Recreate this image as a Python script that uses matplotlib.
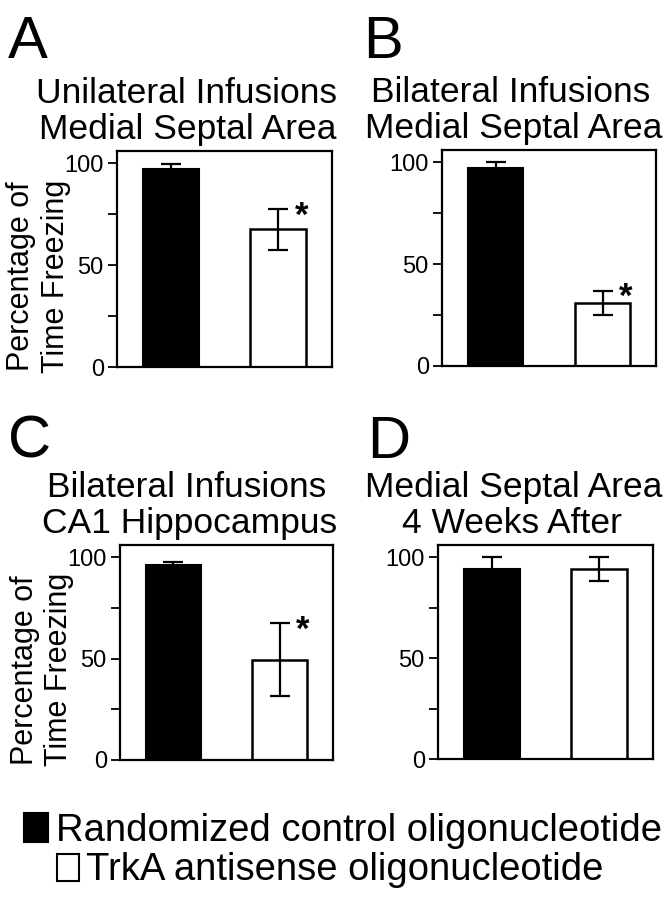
import matplotlib
matplotlib.use("Agg")
import matplotlib.pyplot as plt
from matplotlib.patches import Rectangle

plt.rcParams['font.family'] = ['Liberation Sans', 'DejaVu Sans']

groups = ["Randomized control oligonucleotide", "TrkA antisense oligonucleotide"]
panel_letters = ["A", "B", "C", "D"]
panel_titles = [
    ("Unilateral Infusions", "Medial Septal Area"),
    ("Bilateral Infusions", "Medial Septal Area"),
    ("Bilateral Infusions", "CA1 Hippocampus"),
    ("Medial Septal Area", "4 Weeks After"),
]
control_means = [97, 97, 96, 94]
control_errs = [2.5, 3, 1.5, 6]
antisense_means = [67.5, 31, 49.5, 94]
antisense_errs = [10, 6, 18, 6]
significant = [True, True, True, False]
yticks_major = [0, 50, 100]
yticks_minor = [25, 75]

W, H = 666, 899
fig = plt.figure(figsize=(W / 100, H / 100), dpi=100)

# axes boxes in pixels: left, right, bottom, top
boxes = [(117, 332, 367, 151), (442, 656, 366, 150), (120, 333, 760, 545), (438, 653, 759, 545)]
letter_pos = [(8, 58), (363, 58), (8, 458), (367, 458)]
title_x = [(187, 188), (511, 514), (187, 190), (514, 512)]

for i in range(4):
    l, r, b, t = boxes[i]
    ax = fig.add_axes([l / W, 1 - b / H, (r - l) / W, (b - t) / H])
    ax.bar([0], [control_means[i]], width=0.52, color='black', edgecolor='black', linewidth=1.5, zorder=2)
    ax.bar([1], [antisense_means[i]], width=0.52, color='white', edgecolor='black', linewidth=1.8, zorder=2)
    ax.errorbar([0, 1], [control_means[i], antisense_means[i]],
                yerr=[control_errs[i], antisense_errs[i]], fmt='none',
                ecolor='black', elinewidth=1.6, capsize=7.5, capthick=1.6, zorder=3)
    if significant[i]:
        ax.text(1.22, antisense_means[i] + antisense_errs[i] - 3.5, "*", fontsize=25,
                fontweight='bold', ha='center', va='center')
    ax.set_xlim(-0.5, 1.5)
    ax.set_ylim(0, 106)
    ax.set_xticks([])
    ax.set_yticks(yticks_major)
    ax.set_yticks(yticks_minor, minor=True)
    ax.tick_params(axis='y', which='both', direction='out', length=6.5, width=1.3, pad=3,
                   labelsize=17)
    for s in ax.spines.values():
        s.set_linewidth(1.6)
    if i in (0, 2):
        ax.set_ylabel("Percentage of\nTime Freezing", fontsize=22, linespacing=1.2)
        ax.yaxis.set_label_coords(-0.215, 0.42)
    lx, ly = letter_pos[i]
    fig.text(lx / W, 1 - ly / H, panel_letters[i], fontsize=43, ha='left', va='baseline')
    t1, t2 = panel_titles[i]
    x1, x2 = title_x[i]
    fig.text(x1 / W, 1 - (t - 48) / H, t1, fontsize=25.5, ha='center', va='baseline')
    fig.text(x2 / W, 1 - (t - 12) / H, t2, fontsize=25.5, ha='center', va='baseline')

# legend
fig.patches.append(Rectangle((24 / W, 1 - 842 / H), 24 / W, 29 / H, transform=fig.transFigure,
                             facecolor='black', edgecolor='black', linewidth=1.5))
fig.text(56 / W, 1 - 841 / H, groups[0], fontsize=27.5, ha='left', va='baseline')
fig.patches.append(Rectangle((57 / W, 1 - 881 / H), 22 / W, 27 / H, transform=fig.transFigure,
                             facecolor='white', edgecolor='black', linewidth=1.5))
fig.text(86 / W, 1 - 880 / H, groups[1], fontsize=27.5, ha='left', va='baseline')

fig.savefig("out.png", dpi=100)
